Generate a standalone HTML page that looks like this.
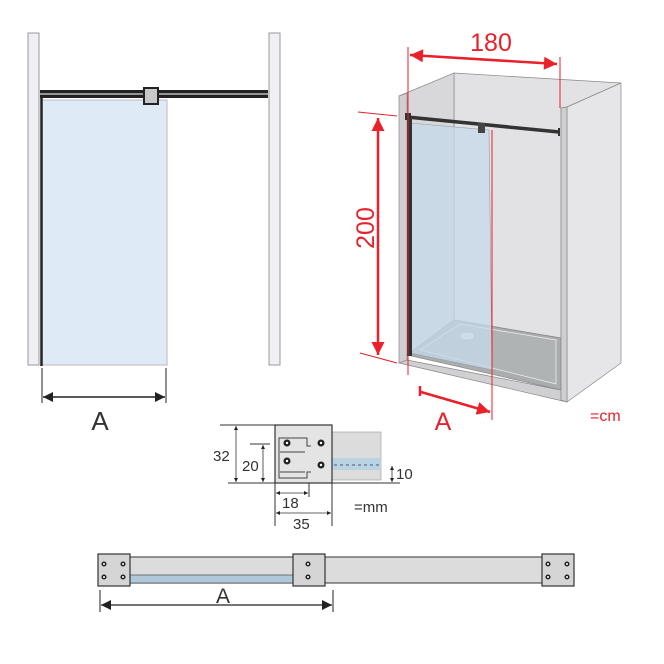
<!DOCTYPE html><html><head><style>body{margin:0;background:#fff}svg{display:block}text{font-family:"Liberation Sans",sans-serif}</style></head><body>
<svg width="664" height="664" viewBox="0 0 664 664" xmlns="http://www.w3.org/2000/svg">
<defs>
<marker id="ak" viewBox="0 0 10 10" refX="10" refY="5" markerWidth="8" markerHeight="6" orient="auto-start-reverse" markerUnits="userSpaceOnUse"><path d="M0,0L10,5L0,10z" fill="#222"/></marker>
<marker id="ab" viewBox="0 0 10 10" refX="10" refY="5" markerWidth="16" markerHeight="10" orient="auto-start-reverse" markerUnits="userSpaceOnUse"><path d="M0,0L10,5L0,10z" fill="#222"/></marker>
<marker id="ar" viewBox="0 0 10 10" refX="10" refY="5" markerWidth="14" markerHeight="13" orient="auto-start-reverse" markerUnits="userSpaceOnUse"><path d="M0,0L10,5L0,10z" fill="#e8212a"/></marker>
<marker id="as" viewBox="0 0 10 10" refX="10" refY="5" markerWidth="5" markerHeight="4" orient="auto-start-reverse" markerUnits="userSpaceOnUse"><path d="M0,0L10,5L0,10z" fill="#222"/></marker>
</defs>
<!-- Top-left plan -->
<rect x="28" y="33" width="11" height="332" fill="#eef0f5" stroke="#999"/>
<rect x="269" y="33" width="11" height="332" fill="#eef0f5" stroke="#999"/>
<rect x="41" y="100" width="126" height="265" fill="#dfeaf7" stroke="#b8b8c0"/>
<line x1="41.5" y1="98" x2="41.5" y2="366" stroke="#222" stroke-width="2.5"/>
<rect x="40" y="90" width="228" height="8" fill="#222"/>
<line x1="40" y1="94" x2="268" y2="94" stroke="#bbb" stroke-width="1.5"/>
<rect x="144" y="88" width="14" height="16" fill="#c8c8c8" stroke="#222" stroke-width="2"/>
<line x1="42" y1="368" x2="42" y2="403" stroke="#222"/>
<line x1="166" y1="368" x2="166" y2="403" stroke="#222"/>
<line x1="43" y1="397" x2="165" y2="397" stroke="#222" stroke-width="1.5" marker-start="url(#ab)" marker-end="url(#ab)"/>
<text x="100" y="430" font-size="26" text-anchor="middle" fill="#333">A</text>
<!-- 3D -->
<polygon points="454,73 621,83 567,107 561,108 561,338 454,320" fill="#e2e2e4" stroke="#888" stroke-width="0.7"/>
<polygon points="399,96 454,73 454,320 407,355 407,100" fill="#d8d8da" stroke="#888" stroke-width="0.7"/>
<polygon points="399,96 407,93 407,363 399,363" fill="#cfcfd1" stroke="#888" stroke-width="0.7"/>
<polygon points="407,355 454,320 561,338 561,390" fill="#a9adad" stroke="#888" stroke-width="0.7"/>
<polygon points="420,350 460,324 556,340 556,384" fill="#b0b3b3" stroke="#eee" stroke-width="0.8"/>
<ellipse cx="467" cy="336" rx="6" ry="2.5" fill="#ddd" stroke="#fff"/>
<polygon points="399,363 407,360 561,390 561,400 567,402 399,363" fill="#d0d0d2" stroke="#888" stroke-width="0.7"/>
<polygon points="567,107 621,83 621,363 567,402" fill="#e6e6e8" stroke="#888" stroke-width="0.7"/>
<polygon points="561,108 567,107 567,402 561,400" fill="#cfcfd1" stroke="#888" stroke-width="0.7"/>
<polygon points="410,123 489,130 492,370 410,353" fill="#c6d9ea" fill-opacity="0.75" stroke="#99a" stroke-width="0.6"/>
<rect x="407" y="116" width="5" height="240" fill="#333"/>
<line x1="407" y1="117" x2="559" y2="132" stroke="#333" stroke-width="3.5"/>
<rect x="405" y="113" width="6" height="7" fill="#333"/>
<rect x="478" y="123" width="7" height="10" fill="#444"/>
<line x1="559" y1="128" x2="559" y2="136" stroke="#333" stroke-width="2"/>
<g stroke="#e8212a" stroke-width="1">
<line x1="408" y1="47" x2="408" y2="375"/><line x1="560" y1="57" x2="560" y2="108"/>
<line x1="358" y1="112" x2="397" y2="116"/><line x1="360" y1="353" x2="397" y2="363"/>
<line x1="492" y1="130" x2="492" y2="420"/>
</g>
<g stroke="#e8212a" stroke-width="2.5">
<line x1="410" y1="55" x2="557" y2="64" marker-start="url(#ar)" marker-end="url(#ar)"/>
<line x1="378" y1="118" x2="378" y2="355" marker-start="url(#ar)" marker-end="url(#ar)"/>
<line x1="421" y1="392" x2="490" y2="412" marker-end="url(#ar)"/>
<line x1="420" y1="386" x2="420" y2="396"/>
</g>
<text x="491" y="51" font-size="25" text-anchor="middle" fill="#e8212a">180</text>
<text transform="translate(374,228) rotate(-90)" font-size="25" text-anchor="middle" fill="#e8212a">200</text>
<text x="443" y="430" font-size="25" text-anchor="middle" fill="#e8212a">A</text>
<text x="590" y="421" font-size="16" fill="#e8212a">=cm</text>
<!-- detail -->
<g stroke="#333" stroke-width="1">
<line x1="220" y1="425" x2="275" y2="425"/><line x1="228" y1="483" x2="400" y2="483"/>
<line x1="250" y1="444" x2="270" y2="444"/>
<line x1="275" y1="483" x2="275" y2="526"/><line x1="332" y1="483" x2="332" y2="526"/><line x1="309" y1="483" x2="309" y2="497"/>
</g>
<rect x="332" y="432" width="49" height="48" fill="#dcdcdc" stroke="#999" stroke-width="0.6"/>
<rect x="332" y="458" width="49" height="12" fill="#b9d3e3"/>
<line x1="334" y1="465" x2="380" y2="465" stroke="#557" stroke-dasharray="3,3"/>
<rect x="275" y="425" width="57" height="58" fill="#e4e4e4" stroke="#333" stroke-width="1.2"/>
<path d="M279,448 v-10 h28 v8 h4 M279,448 v30 h28 v-6 h4 M280,452 h25 M280,472 h25" fill="none" stroke="#444" stroke-width="1"/>
<g fill="#222"><circle cx="287" cy="443" r="3.5"/><circle cx="321" cy="443" r="3.5"/><circle cx="287" cy="461" r="3.5"/><circle cx="321" cy="465" r="3.5"/></g>
<g fill="#fff"><circle cx="287" cy="443" r="1.2"/><circle cx="321" cy="443" r="1.2"/><circle cx="287" cy="461" r="1.2"/><circle cx="321" cy="465" r="1.2"/></g>
<g stroke="#333" stroke-width="0.8">
<line x1="236" y1="426" x2="236" y2="482" marker-start="url(#as)" marker-end="url(#as)"/>
<line x1="263" y1="445" x2="263" y2="482" marker-start="url(#as)" marker-end="url(#as)"/>
<line x1="392" y1="466" x2="392" y2="482" marker-start="url(#as)" marker-end="url(#as)"/>
<line x1="276" y1="493" x2="308" y2="493" marker-start="url(#as)" marker-end="url(#as)"/>
<line x1="276" y1="513" x2="331" y2="513" marker-start="url(#as)" marker-end="url(#as)"/>
</g>
<g font-size="15" fill="#333">
<text x="213" y="461">32</text><text x="242" y="471">20</text><text x="396" y="479">10</text>
<text x="282" y="508">18</text><text x="293" y="529">35</text><text x="354" y="512">=mm</text>
</g>
<!-- bottom -->
<rect x="130" y="557" width="163" height="26" fill="#dcdcdc" stroke="#333"/>
<rect x="130" y="575" width="163" height="8" fill="#b0c9da" stroke="#333" stroke-width="0.6"/>
<rect x="325" y="575" width="11" height="8" fill="#b0c9da" stroke="#333" stroke-width="0.6"/>
<rect x="325" y="557" width="217" height="26" fill="#dcdcdc" stroke="#333"/>
<g fill="#d5d5d5" stroke="#333" stroke-width="1.2">
<rect x="98" y="554" width="32" height="32"/><rect x="293" y="554" width="32" height="32"/><rect x="542" y="554" width="32" height="32"/>
</g>
<g fill="#fff" stroke="#222" stroke-width="1.5">
<circle cx="104" cy="564" r="1.8"/><circle cx="123" cy="564" r="1.8"/><circle cx="104" cy="577" r="1.8"/><circle cx="123" cy="577" r="1.8"/>
<circle cx="308" cy="564" r="1.8"/><circle cx="308" cy="577" r="1.8"/>
<circle cx="548" cy="564" r="1.8"/><circle cx="567" cy="564" r="1.8"/><circle cx="548" cy="577" r="1.8"/><circle cx="567" cy="577" r="1.8"/>
</g>
<line x1="100" y1="590" x2="100" y2="612" stroke="#222"/><line x1="333" y1="590" x2="333" y2="612" stroke="#222"/>
<line x1="101" y1="605" x2="332" y2="605" stroke="#222" stroke-width="1.2" marker-start="url(#ab)" marker-end="url(#ab)"/>
<text x="223" y="603" font-size="21" text-anchor="middle" fill="#333">A</text>
</svg></body></html>
